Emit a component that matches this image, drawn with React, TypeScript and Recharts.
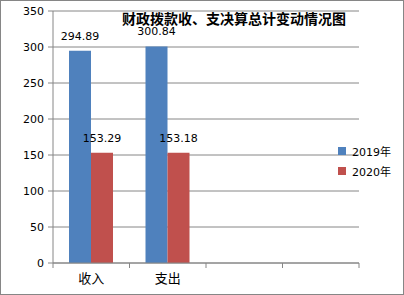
import { Bar, BarChart, CartesianGrid, LabelList, XAxis, YAxis } from 'recharts';

const categories = ['收入', '支出', '', ''];
const values2019 = [294.89, 300.84, null, null];
const values2020 = [153.29, 153.18, null, null];
const yTicks = [0, 50, 100, 150, 200, 250, 300, 350];
const seriesNames = ['2019年', '2020年'];
const title = '财政拨款收、支决算总计变动情况图';

const data = categories.map((name, i) => ({ name, v2019: values2019[i], v2020: values2020[i] }));

const GRAY = '#868686';
const BLUE = '#4F81BD';
const RED = '#C0504D';
const PLOT_BOTTOM = 263;
const BAND = 76.5;

function CategoryTick(props: any) {
  const { x, y, payload, index, visibleTicksCount } = props;
  const last = index === visibleTicksCount - 1;
  return (
    <g>
      <line x1={x - BAND / 2} x2={x - BAND / 2} y1={PLOT_BOTTOM} y2={PLOT_BOTTOM + 5} stroke={GRAY} />
      {last && <line x1={x + BAND / 2} x2={x + BAND / 2} y1={PLOT_BOTTOM} y2={PLOT_BOTTOM + 5} stroke={GRAY} />}
      <text x={x} y={y + 12} textAnchor="middle" fontSize={13} fill="#000" fontFamily='"Noto Sans CJK SC", sans-serif'>
        {payload.value}
      </text>
    </g>
  );
}

function LegendBox() {
  const colors = [BLUE, RED];
  return (
    <div style={{ position: 'absolute', left: 337, top: 140, fontFamily: '"DejaVu Sans", "Noto Sans CJK SC", sans-serif', fontSize: 11, color: '#000' }}>
      {seriesNames.map((s, i) => (
        <div key={s} style={{ display: 'flex', alignItems: 'center', height: 20 }}>
          <span style={{ width: 8, height: 8, background: colors[i], marginRight: 6, display: 'inline-block' }} />
          <span>{s}</span>
        </div>
      ))}
    </div>
  );
}

export default function App() {
  return (
    <div
      style={{
        position: 'absolute',
        left: 0,
        top: 0,
        width: 404,
        height: 295,
        boxSizing: 'border-box',
        border: `1px solid ${GRAY}`,
        background: '#fff',
      }}
    >
      <div style={{ position: 'absolute', left: -1, top: -1 }}>
        <BarChart width={404} height={295} data={data} margin={{ top: 11, right: 45, bottom: 0, left: 0 }} barGap={0} barSize={22}>
          <CartesianGrid vertical={false} stroke={GRAY} />
          <XAxis
            dataKey="name"
            stroke={GRAY}
            tickLine={false}
            height={32}
            interval={0}
            tick={<CategoryTick />}
          />
          <YAxis
            domain={[0, 350]}
            ticks={yTicks}
            width={53}
            stroke={GRAY}
            tickSize={5}
            tickMargin={4}
            tick={{ fill: '#000', fontSize: 11, fontFamily: '"DejaVu Sans", sans-serif' }}
          />
          <Bar dataKey="v2019" name={seriesNames[0]} fill={BLUE} isAnimationActive={false}>
            <LabelList dataKey="v2019" position="top" offset={11} fill="#000" fontSize={11} fontFamily='"DejaVu Sans", sans-serif' />
          </Bar>
          <Bar dataKey="v2020" name={seriesNames[1]} fill={RED} isAnimationActive={false}>
            <LabelList dataKey="v2020" position="top" offset={11} fill="#000" fontSize={11} fontFamily='"DejaVu Sans", sans-serif' />
          </Bar>
        </BarChart>
      </div>
      <div
        style={{
          position: 'absolute',
          left: 121,
          top: 9,
          fontFamily: '"Noto Sans CJK SC", sans-serif',
          fontWeight: 'bold',
          fontSize: 14,
          lineHeight: '16px',
          color: '#000',
          whiteSpace: 'nowrap',
        }}
      >
        {title}
      </div>
      <LegendBox />
    </div>
  );
}
